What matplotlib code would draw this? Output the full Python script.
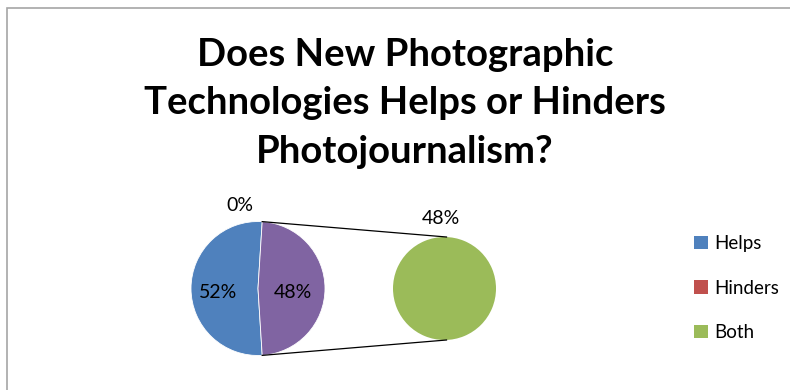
import matplotlib
matplotlib.use("Agg")
import matplotlib.pyplot as plt
from matplotlib.patches import Rectangle
import numpy as np

plt.rcParams['font.family'] = ['Lato', 'DejaVu Sans']

categories = ['Helps', 'Hinders', 'Both']
values = [52, 0, 48]
colors = ['#4F81BD', '#C0504D', '#9BBB59']
other_color = '#8064A2'
title_lines = ['Does New Photographic', 'Technologies Helps or Hinders', 'Photojournalism?']

W, H = 790, 390
fig = plt.figure(figsize=(W / 100, H / 100), dpi=100)
ax = fig.add_axes([0, 0, 1, 1])

# chart frame
ax.add_patch(Rectangle((7, -20), 820, H - 8 + 20, fill=False, edgecolor='#A6A6A6', lw=1.2))

# title, one centred line at a time
for line, yc in zip(title_lines, [55, 103, 152]):
    ax.text(405, H - yc, line, ha='center', va='center', fontsize=27.5,
            fontweight='bold', color='black')

total = sum(values)
helps, hinders, both = values
other = both  # second plot holds only "Both"
other_deg = 360 * other / total

main_c = (258, H - 288.5)
main_r = 67
sec_c = (444.5, H - 288.5)
sec_r = 51.5

# primary pie: Hinders, Helps, then the combined "Other" slice centred on the right
ax.pie([hinders, helps, other], colors=[colors[1], colors[0], other_color],
       startangle=other_deg / 2, counterclock=True, center=main_c, radius=main_r,
       wedgeprops=dict(linewidth=0.6, edgecolor='white'), frame=True)
# secondary pie
ax.pie([both], colors=[colors[2]], startangle=90, center=sec_c, radius=sec_r,
       wedgeprops=dict(linewidth=0), frame=True)
ax.set_xlim(0, W)
ax.set_ylim(0, H)
ax.set_aspect('equal')
ax.axis('off')

# connector lines
a = np.deg2rad(other_deg / 2)
p_top = (main_c[0] + main_r * np.cos(a), main_c[1] + main_r * np.sin(a))
p_bot = (main_c[0] + main_r * np.cos(a), main_c[1] - main_r * np.sin(a))
ax.plot([p_top[0], sec_c[0] + 2], [p_top[1], sec_c[1] + sec_r], color='black', lw=0.9)
ax.plot([p_bot[0], sec_c[0] + 2], [p_bot[1], sec_c[1] - sec_r], color='black', lw=0.9)

lab_fs = 14
def pct(v):
    return f'{round(100 * v / total)}%'

# inside labels on the primary pie
helps_mid = np.deg2rad(other_deg / 2 + 180 * helps / total)
ax.text(main_c[0] + 0.6 * main_r * np.cos(helps_mid), main_c[1] - 4 + 0.6 * main_r * np.sin(helps_mid),
        pct(helps), ha='center', va='center', fontsize=lab_fs, color='black')
ax.text(main_c[0] + 0.52 * main_r, main_c[1] - 4, pct(other),
        ha='center', va='center', fontsize=lab_fs, color='black')
# hinders label above the pie
ax.text(p_top[0] - 22, p_top[1] + 16, pct(hinders), ha='center', va='center',
        fontsize=lab_fs, color='black')
# secondary pie label
ax.text(sec_c[0] - 4, sec_c[1] + sec_r + 19, pct(both), ha='center', va='center',
        fontsize=lab_fs, color='black')

handles = [Rectangle((0, 0), 1, 1, facecolor=c, edgecolor='none') for c in colors]
fig.legend(handles, categories, loc='center left', bbox_to_anchor=(685 / W, 1 - 288 / H),
           frameon=False, fontsize=13.5, handlelength=0.7, handleheight=0.7,
           handletextpad=0.35, labelspacing=1.45, borderpad=0)

fig.savefig('out.png', dpi=100, facecolor='white')
